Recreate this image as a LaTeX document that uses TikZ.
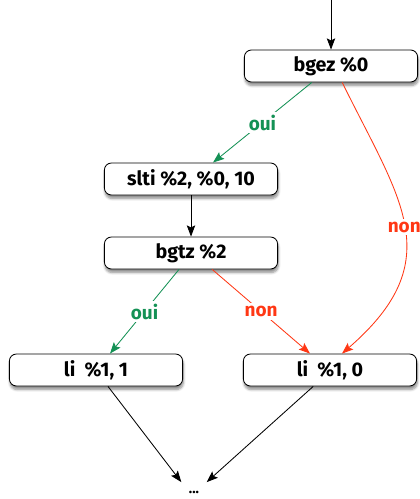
\documentclass[tikz,border=0pt]{standalone}
\usepackage{fontspec}
\setsansfont{Fira Sans}
\usetikzlibrary{arrows.meta, shadows.blur}
\definecolor{ouigreen}{RGB}{20,145,85}
\definecolor{nonred}{RGB}{255,55,20}

\begin{document}
\begin{tikzpicture}[x=0.025cm, y=-0.025cm,
    instr/.style={draw, line width=0.6pt, rounded corners=5pt, fill=white,
        minimum width=4.33cm, minimum height=0.8cm,
        font=\sffamily\bfseries\fontsize{14}{16}\selectfont,
        blur shadow={shadow xshift=0.5pt, shadow yshift=-2.5pt,
            shadow blur steps=6, shadow opacity=45}},
    flow/.style={line width=0.6pt, -{Stealth[length=8pt, width=6pt, inset=1.5pt]}},
    lbl/.style={fill=white, inner sep=2pt, font=\sffamily\bfseries\fontsize{13.5}{15}\selectfont}]
    \useasboundingbox (0,0) rectangle (420,499);

    % instructions
    \coordinate (entry) at (331,0);
    \node[instr] (bgez) at (331,66) {bgez \%0};
    \node[instr] (slti) at (191,179) {slti \%2, \%0, 10};
    \node[instr] (bgtz) at (191,253) {bgtz \%2};
    \node[instr] (lione) at (96,370) {li\ \ \%1, 1};
    \node[instr] (lizero) at (330,370) {li\ \ \%1, 0};
    \node[minimum width=0.62cm, minimum height=0.48cm, inner sep=0pt,
        font=\sffamily\bfseries] (dots) at (194,492) {...};

    % connectors
    \draw[flow] (entry) -- (bgez);
    \draw[flow, ouigreen] ([xshift=-0.48cm]bgez.south) -- node[lbl, text=ouigreen] {oui} ([xshift=0.55cm]slti.north);
    \draw[flow, nonred] ([xshift=0.28cm]bgez.south) .. controls (400,200) and (450,260) .. node[lbl, text=nonred] {non} ([xshift=0.3cm]lizero.north);
    \draw[flow] (slti) -- (bgtz);
    \draw[flow, ouigreen] ([xshift=-0.3cm]bgtz.south) -- node[lbl, text=ouigreen] {oui} ([xshift=0.35cm]lione.north);
    \draw[flow, nonred] ([xshift=0.53cm]bgtz.south) -- node[lbl, text=nonred] {non} ([xshift=-0.5cm]lizero.north);
    \draw[flow] ([xshift=0.3cm]lione.south) -- (dots.north west);
    \draw[flow] ([xshift=-0.42cm]lizero.south) -- (dots.north east);
\end{tikzpicture}
\end{document}
